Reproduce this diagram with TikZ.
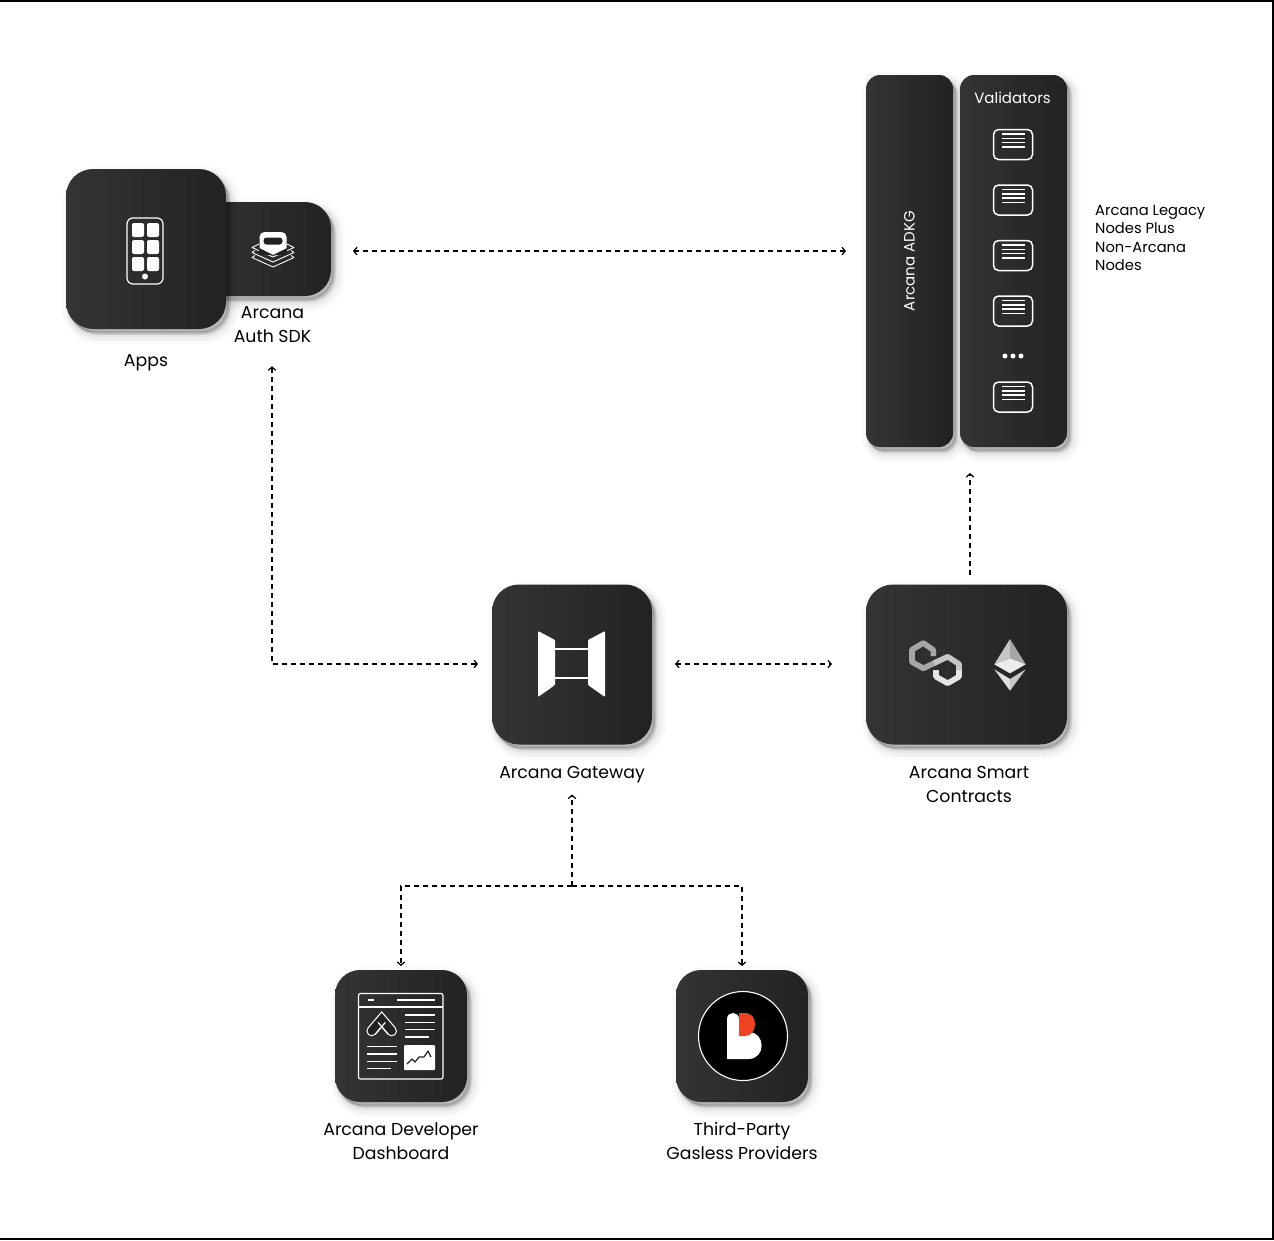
\documentclass[tikz,border=0pt]{standalone}
\usepackage{fontspec}
\setmainfont{Poppins}
\usetikzlibrary{shadows, arrows.meta}
\definecolor{boxlight}{HTML}{343434}
\definecolor{boxdark}{HTML}{222222}
\definecolor{appred}{HTML}{EE4323}

\begin{document}
\begin{tikzpicture}[x=1pt, y=-1pt, node distance=100pt, >={Straight Barb[length=3.2pt, width=7.5pt]},
    softshadow/.style={general shadow={draw=black, fill=black, line width=18pt, opacity=.018, shadow xshift=5pt, shadow yshift=-6pt},
        general shadow={draw=black, fill=black, line width=12pt, opacity=.03, shadow xshift=5pt, shadow yshift=-6pt},
        general shadow={draw=black, fill=black, line width=7pt, opacity=.05, shadow xshift=4pt, shadow yshift=-5pt},
        general shadow={draw=black, fill=black, line width=3pt, opacity=.08, shadow xshift=3pt, shadow yshift=-4pt},
        general shadow={draw=black, fill=black, line width=.5pt, opacity=.1, shadow xshift=2pt, shadow yshift=-3pt}},
    darkbox/.style={rectangle, softshadow, left color=boxlight, right color=boxdark, inner sep=0pt, outer sep=0pt, rounded corners=27pt, minimum width=160pt, minimum height=160pt},
    tallbox/.style={darkbox, rounded corners=14pt, minimum height=372pt},
    smallbox/.style={darkbox, rounded corners=25pt, minimum width=132pt, minimum height=132pt},
    server/.style={rectangle, draw=white, line width=1.5pt, rounded corners=5pt, inner sep=0pt, minimum width=39pt, minimum height=30pt,
        path picture={
            \draw[white, line width=1.1pt] ([xshift=-11pt, yshift=10.5pt]path picture bounding box.center) -- ++(23,0);
            \draw[white, line width=1.1pt] ([xshift=-11pt, yshift=6pt]path picture bounding box.center) -- ++(23,0);
            \draw[white, line width=1.1pt] ([xshift=-11pt, yshift=2pt]path picture bounding box.center) -- ++(23,0);
            \draw[white, line width=1.1pt] ([xshift=-11pt, yshift=-2.5pt]path picture bounding box.center) -- ++(23,0);
        }},
    caption/.style={align=center, inner sep=0pt, font=\fontsize{17.3}{24}\selectfont},
    whitecaption/.style={text=white, inner sep=0pt, font=\fontsize{15}{18}\selectfont},
    link/.style={dashed, dash pattern=on 5pt off 4pt, line width=1.25pt}]

    \useasboundingbox (0,0) rectangle (1274,1240);

    % frame of the page
    \fill[black] (0,0) rectangle (1274,1.5);
    \fill[black] (0,1238) rectangle (1274,1240);
    \fill[black] (1272,0) rectangle (1274,1240);

    % boxes
    \node[darkbox, rounded corners=26pt, minimum width=131pt, minimum height=94pt] (sdk) at (265.5,249) {};
    \node[darkbox] (apps) at (146,249) {};
    \node[tallbox, minimum width=87pt] (adkg) at (909.5,261) {};
    \node[tallbox, minimum width=107pt, right of=adkg, node distance=104pt] (validators) {};
    \node[darkbox] (gateway) at (572,664.5) {};
    \node[darkbox, minimum width=201pt, right of=gateway, node distance=394.5pt] (contracts) {};
    \node[smallbox] (dashboard) at (401,1036) {};
    \node[smallbox, right of=dashboard, node distance=341pt] (gasless) {};

    % labels
    \node[caption, below of=apps, node distance=114pt] (appslabel) {Apps};
    \node[caption] (sdklabel) at (272.5,325) {Arcana\\Auth SDK};
    \node[caption, below of=gateway, node distance=110.5pt] (gatewaylabel) {Arcana Gateway};
    \node[caption] (contractslabel) at (969,784) {Arcana Smart\\Contracts};
    \node[caption, below of=dashboard, node distance=105.5pt] (dashboardlabel) {Arcana Developer\\Dashboard};
    \node[caption, below of=gasless, node distance=104.5pt] (gaslesslabel) {Third-Party\\Gasless Providers};
    \node[whitecaption, rotate=90] (adkglabel) at (adkg.center) {Arcana ADKG};
    \node[whitecaption] (validatorslabel) at (1012.5,98) {Validators};
    \node[anchor=west, align=left, inner sep=0pt, font=\fontsize{14.7}{18.6}\selectfont] (legacylabel) at (1095,238) {Arcana Legacy\\Nodes Plus\\Non-Arcana\\Nodes};

    % validators
    \node[server] (server1) at (1013,144.5) {};
    \node[server, below of=server1, node distance=55.5pt] (server2) {};
    \node[server, below of=server2, node distance=55.5pt] (server3) {};
    \node[server, below of=server3, node distance=55.5pt] (server4) {};
    \node[server, below of=server4, node distance=86pt] (server5) {};
    \fill[white] (1005,356) circle (2.5) (1013,356) circle (2.5) (1021,356) circle (2.5);

    % connectors
    \coordinate (branch) at (572,886);
    \draw[link, <->, shorten <=22pt, shorten >=20pt] ([yshift=-2pt]sdk.east) -- ([yshift=-2pt]sdk.east -| adkg.west);
    \draw[link, <->, shorten <=23pt, shorten >=14pt] ([xshift=-.5pt]sdklabel.south) |- ([yshift=.5pt]gateway.west);
    \draw[link, <->, shorten <=23pt, shorten >=34pt] ([yshift=.5pt]gateway.east) -- ([yshift=.5pt]contracts.west);
    \draw[link, ->, shorten <=10pt, shorten >=26pt] ([xshift=3.5pt]contracts.north) -- ([xshift=3.5pt]contracts.north |- validators.south);
    \draw[link, ->, shorten >=11pt] (branch) -- (gatewaylabel.south);
    \draw[link, ->, shorten >=4pt] (branch) -| (dashboard.north);
    \draw[link, ->, shorten >=4pt] (branch) -| (gasless.north);

    % phone icon
    \draw[white, line width=1.2pt, rounded corners=6pt] (127,218) rectangle (163,284);
    \fill[white, rounded corners=2pt] (132,223) rectangle (144,237);
    \fill[white, rounded corners=2pt] (147,223) rectangle (159,237);
    \fill[white, rounded corners=2pt] (132,240) rectangle (144,254);
    \fill[white, rounded corners=2pt] (147,240) rectangle (159,254);
    \fill[white, rounded corners=2pt] (132,257) rectangle (144,271);
    \fill[white, rounded corners=2pt] (147,257) rectangle (159,271);
    \fill[white] (145,276.5) circle (3);

    % sdk icon
    \draw[white, line width=.9pt, line join=round] (259,244) -- (252,247.5) -- (273,257) -- (294,247.5) -- (287,244);
    \draw[white, line width=.9pt, line join=round] (255,250.5) -- (252,252.5) -- (273,262) -- (294,252.5) -- (291,250.5);
    \draw[white, line width=.9pt, line join=round] (255,255.5) -- (252,257.5) -- (273,267) -- (294,257.5) -- (291,255.5);
    \fill[white, rounded corners=5pt] (259.5,255) -- (259.5,232) -- (286.5,232) -- (286.5,255) -- (273,255) -- cycle;
    \fill[boxdark] (259,248) -- (273.2,255) -- (259,255) -- cycle;
    \fill[boxdark] (287,248) -- (273.2,255) -- (287,255) -- cycle;
    \fill[boxdark, rounded corners=3pt] (263.5,237.5) rectangle (282.5,244.5);

    % gateway icon
    \fill[white, rounded corners=1pt] (538,631) -- (555,640) -- (555,685) -- (538,697) -- cycle;
    \fill[white, rounded corners=1pt] (605,631) -- (588,640) -- (588,685) -- (605,697) -- cycle;
    \fill[white] (555,648) rectangle (588,650);
    \fill[white] (555,677) rectangle (588,679);

    % polygon icon
    \draw[gray!70, line width=5.6pt, line join=round] (933.3,656) -- (933.3,650) -- (923.3,643) -- (912,649.7) -- (912,662) -- (923.3,668.3) -- (936,662.2);
    \draw[gray!45, line width=5.6pt, line join=round] (934,663.2) -- (947.7,656.7) -- (959,664) -- (959,672);
    \draw[gray!20, line width=5.6pt, line join=round] (959,670) -- (959,676.7) -- (947.7,683.3) -- (936,676.7) -- (936,670);

    % ethereum icon
    \fill[gray!45] (1010,639) -- (994.3,664.3) -- (1010,658.3) -- cycle;
    \fill[gray!70] (1010,639) -- (1025.7,664.3) -- (1010,658.3) -- cycle;
    \fill[gray!15] (994.3,664.3) -- (1010,658.3) -- (1025.7,664.3) -- (1010,673.3) -- cycle;
    \fill[gray!25] (994.3,669.3) -- (1010,690.7) -- (1010,679) -- cycle;
    \fill[gray!45] (1025.7,669.3) -- (1010,690.7) -- (1010,679) -- cycle;

    % dashboard icon
    \draw[white, line width=1.2pt, rounded corners=2pt] (358.5,993.5) rectangle (443,1079);
    \draw[white, line width=1.2pt] (358.5,1007) -- (443,1007);
    \draw[white, line width=1.4pt] (368,1000) -- (374,1000);
    \draw[white, line width=1.4pt] (397,1000) -- (435,1000);
    \draw[white, line width=1.4pt] (405,1015) -- (435,1015);
    \draw[white, line width=1.4pt] (405,1022.3) -- (435,1022.3);
    \draw[white, line width=1.4pt] (405,1029.7) -- (435,1029.7);
    \draw[white, line width=1.4pt] (405,1037) -- (429,1037);
    \draw[white, line width=1.4pt] (367,1046.7) -- (397,1046.7);
    \draw[white, line width=1.4pt] (367,1054) -- (397,1054);
    \draw[white, line width=1.4pt] (367,1061.3) -- (397,1061.3);
    \draw[white, line width=1.4pt] (367,1068.7) -- (391,1068.7);
    \fill[white, rounded corners=1pt] (404,1045) rectangle (435,1070);
    \draw[boxdark, line width=1.2pt, line join=round] (407,1064) -- (412,1059) -- (415,1062) -- (419,1057) -- (424,1057) -- (428,1051) -- (431,1057);
    \draw[white, line width=10.6pt, line cap=round] (371.7,1031) -- (381.7,1019.3) -- (391.7,1031);
    \draw[boxdark, line width=8.2pt, line cap=round] (371.7,1031) -- (381.7,1019.3) -- (391.7,1031);
    \draw[white, line width=1.2pt] (375.3,1034.1) -- (385.3,1022.4);
    \draw[white, line width=1.2pt] (388.1,1034.1) -- (378.1,1022.4);

    % gasless provider icon
    \draw[white, fill=black, line width=1.1pt] (743,1036) circle (44.5);
    \fill[white] (727,1059) -- (727,1019) .. controls (727,1011) and (739,1011) .. (739,1019) -- (739,1032) -- (748.5,1032) .. controls (766,1032) and (766,1059) .. (748.5,1059) -- cycle;
    \fill[appred] (739,1013) -- (744,1013) .. controls (752,1013) and (755,1018) .. (755,1024) .. controls (755,1031) and (751,1036) .. (745,1036) -- (739,1036) -- cycle;

\end{tikzpicture}
\end{document}
